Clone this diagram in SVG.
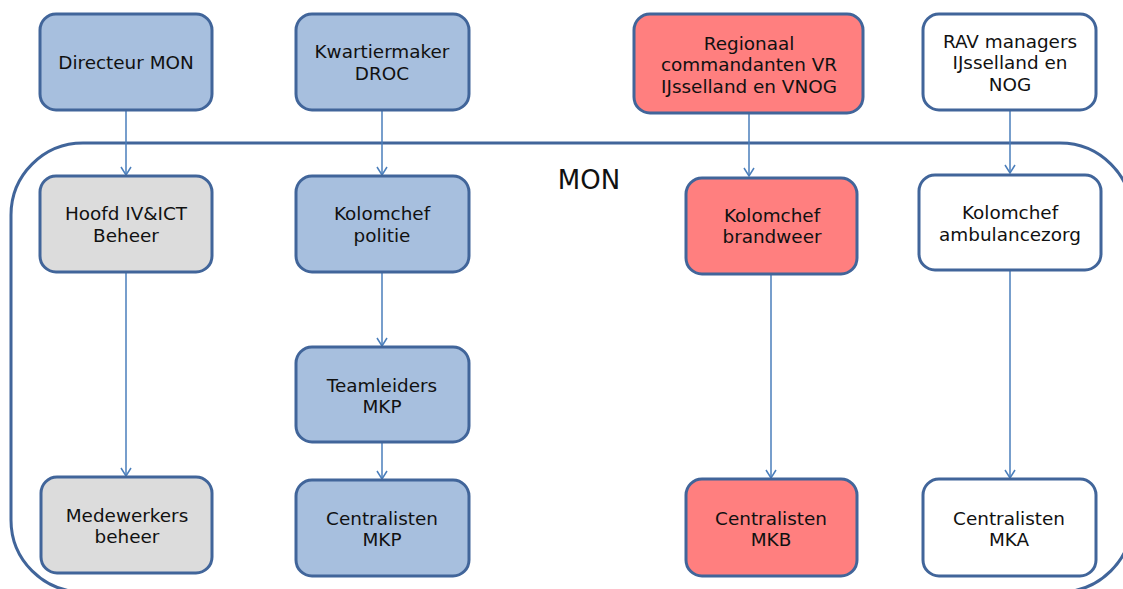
<svg xmlns="http://www.w3.org/2000/svg" width="1123" height="589" viewBox="0 0 1123 589">
<style>
.n{stroke:#41659A;stroke-width:3}
.b{fill:#A7BFDE}.g{fill:#DCDCDC}.r{fill:#FF7F7F}.w{fill:#FFFFFF}
text{font-family:"DejaVu Sans",Verdana,sans-serif;font-size:18.4px;fill:#111;text-anchor:middle}
.c line{stroke:#4A7EBB;stroke-width:1.5;fill:none}
</style>
<defs>
<marker id="a" viewBox="0 0 12 12" refX="11" refY="6" markerWidth="12" markerHeight="12" markerUnits="userSpaceOnUse" orient="auto">
<path d="M3,1 L11,6 L3,11" fill="none" stroke="#4A7EBB" stroke-width="1.5"/>
</marker>
</defs>
<rect width="1123" height="589" fill="#fff"/>
<g id="mon">
<rect x="11" y="143" width="1121" height="449" rx="72" fill="none" stroke="#41659A" stroke-width="3"/>
<text x="589" y="189" style="font-size:26px">MON</text>
</g>
<g class="c">
<line x1="126" y1="110" x2="126" y2="175" marker-end="url(#a)"/>
<line x1="382" y1="110" x2="382" y2="175" marker-end="url(#a)"/>
<line x1="749" y1="113" x2="749" y2="176" marker-end="url(#a)"/>
<line x1="1010" y1="110" x2="1010" y2="173" marker-end="url(#a)"/>
<line x1="126" y1="272" x2="126" y2="476" marker-end="url(#a)"/>
<line x1="382" y1="272" x2="382" y2="346" marker-end="url(#a)"/>
<line x1="382" y1="442" x2="382" y2="479" marker-end="url(#a)"/>
<line x1="771" y1="274" x2="771" y2="478" marker-end="url(#a)"/>
<line x1="1010" y1="270" x2="1010" y2="478" marker-end="url(#a)"/>
</g>
<g id="directeur"><rect class="n b" x="40" y="14" width="172" height="96" rx="16"/><text x="126" y="69">Directeur MON</text></g>
<g id="kwartiermaker"><rect class="n b" x="296" y="14" width="173" height="96" rx="16"/><text x="382" y="58">Kwartiermaker</text><text x="382" y="80">DROC</text></g>
<g id="regionaal"><rect class="n r" x="634" y="14" width="229" height="99" rx="16"/><text x="749" y="50">Regionaal</text><text x="749" y="71">commandanten VR</text><text x="749" y="93">IJsselland en VNOG</text></g>
<g id="rav"><rect class="n w" x="923" y="14" width="173" height="96" rx="16"/><text x="1010" y="48">RAV managers</text><text x="1010" y="69">IJsselland en</text><text x="1010" y="91">NOG</text></g>
<g id="hoofd"><rect class="n g" x="40" y="176" width="172" height="96" rx="16"/><text x="126" y="220">Hoofd IV&amp;ICT</text><text x="126" y="242">Beheer</text></g>
<g id="kolpol"><rect class="n b" x="296" y="176" width="173" height="96" rx="16"/><text x="382" y="220">Kolomchef</text><text x="382" y="242">politie</text></g>
<g id="kolbrw"><rect class="n r" x="686" y="178" width="171" height="96" rx="16"/><text x="772" y="222">Kolomchef</text><text x="772" y="243">brandweer</text></g>
<g id="kolamb"><rect class="n w" x="919" y="175" width="182" height="95" rx="16"/><text x="1010" y="219">Kolomchef</text><text x="1010" y="241">ambulancezorg</text></g>
<g id="teamleiders"><rect class="n b" x="296" y="347" width="173" height="95" rx="16"/><text x="382" y="392">Teamleiders</text><text x="382" y="413">MKP</text></g>
<g id="medewerkers"><rect class="n g" x="41" y="477" width="171" height="96" rx="16"/><text x="127" y="522">Medewerkers</text><text x="127" y="543">beheer</text></g>
<g id="cmkp"><rect class="n b" x="296" y="480" width="173" height="96" rx="16"/><text x="382" y="525">Centralisten</text><text x="382" y="546">MKP</text></g>
<g id="cmkb"><rect class="n r" x="686" y="479" width="171" height="97" rx="16"/><text x="771" y="525">Centralisten</text><text x="771" y="546">MKB</text></g>
<g id="cmka"><rect class="n w" x="923" y="479" width="173" height="97" rx="16"/><text x="1009" y="525">Centralisten</text><text x="1009" y="546">MKA</text></g>
</svg>
